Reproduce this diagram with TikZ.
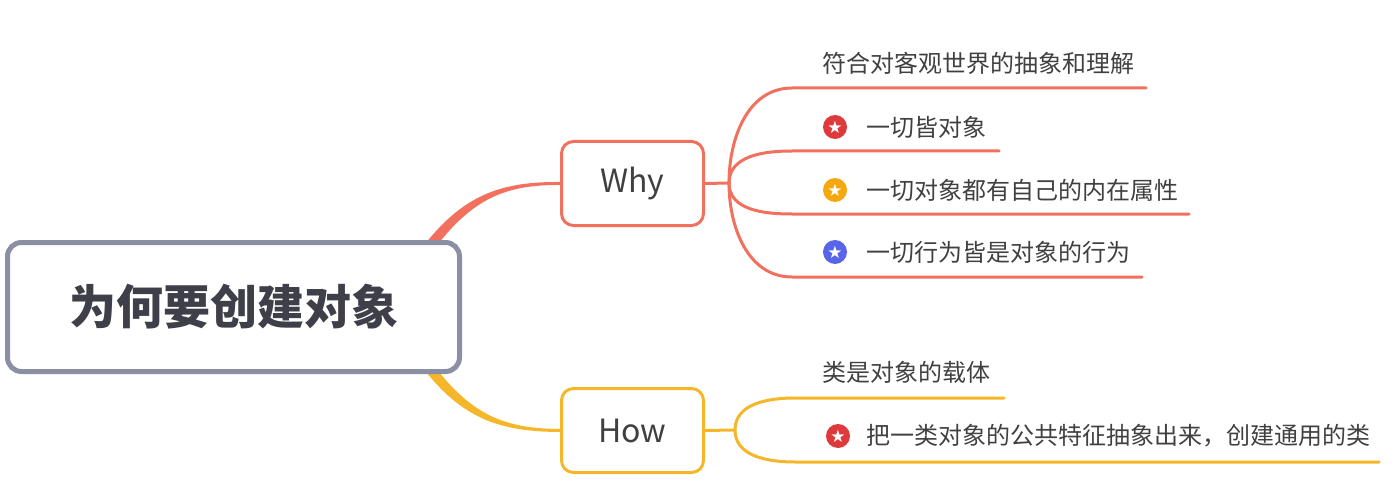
\documentclass[tikz,border=0pt]{standalone}
\usepackage{fontspec}
\setmainfont{Noto Sans CJK SC}
\newfontfamily\symfont{DejaVu Sans}
\usetikzlibrary{positioning,backgrounds}
\definecolor{rootgray}{HTML}{8A8FA3}
\definecolor{roottext}{HTML}{3E3F48}
\definecolor{leafgray}{HTML}{404040}
\definecolor{whyred}{HTML}{F2705E}
\definecolor{howyellow}{HTML}{F5B62A}
\definecolor{badgered}{HTML}{DD3B3B}
\definecolor{badgeyellow}{HTML}{F5A80E}
\definecolor{badgeblue}{HTML}{5865E8}
\tikzset{
  rootbox/.style={draw=rootgray, line width=5pt, rounded corners=14pt, fill=white,
    minimum width=452pt, minimum height=129pt, text=roottext,
    font=\fontsize{47}{50}\selectfont\bfseries},
  topicbox/.style={draw, line width=3pt, rounded corners=12pt, fill=white,
    minimum width=142pt, minimum height=84pt, text=leafgray,
    font=\fontsize{32}{36}\selectfont},
  leaflabel/.style={anchor=west, inner sep=0pt, text=leafgray,
    font=\fontsize{24}{28}\selectfont},
  badge/.style={circle, inner sep=0pt, minimum size=24pt, text=white,
    font=\symfont\fontsize{17}{17}\selectfont},
  branch/.style={line width=3pt, line cap=round},
}

\begin{document}
\begin{tikzpicture}[x=1pt, y=-1pt]
  \useasboundingbox (0,0) rectangle (1400,500);
  % ---- Root and topics ----
  \node[rootbox] at (233.5,307) (root) {为何要创建对象};
  \node[topicbox, draw=whyred]    at (632.5,183.5) (why) {Why};
  \node[topicbox, draw=howyellow] at (632.5,430.5) (how) {How};

  % ---- Why: leaves ----
  \coordinate (whyfork) at (729,183);
  \coordinate (w1s) at (792,88);   \coordinate (w1e) at (1146,88);
  \coordinate (w2s) at (792,151);  \coordinate (w2e) at (999,151);
  \coordinate (w3s) at (792,214);  \coordinate (w3e) at (1189,214);
  \coordinate (w4s) at (792,277);  \coordinate (w4e) at (1142,277);
  \node[leaflabel] at (822,63) (w1text) {符合对客观世界的抽象和理解};
  \node[badge, fill=badgered]    at (835,127) (w2badge) {★};
  \node[leaflabel] at (866,127) (w2text) {一切皆对象};
  \node[badge, fill=badgeyellow] at (835,190) (w3badge) {★};
  \node[leaflabel] at (866,190) (w3text) {一切对象都有自己的内在属性};
  \node[badge, fill=badgeblue]   at (835,252) (w4badge) {★};
  \node[leaflabel] at (866,252) (w4text) {一切行为皆是对象的行为};

  % ---- How: leaves ----
  \coordinate (howfork) at (735,430);
  \coordinate (h1s) at (795,398);  \coordinate (h1e) at (1004,398);
  \coordinate (h2s) at (795,462);  \coordinate (h2e) at (1379,462);
  \node[leaflabel] at (822,372) (h1text) {类是对象的载体};
  \node[badge, fill=badgered] at (838,436) (h2badge) {★};
  \node[leaflabel] at (866,436) (h2text) {把一类对象的公共特征抽象出来，创建通用的类};

  % ---- Edges ----
  \begin{pgfonlayer}{background}
    \coordinate (rootwhyA) at (400,280);  \coordinate (rootwhyB) at (409,286);
    \coordinate (roothowA) at (400,335);  \coordinate (roothowB) at (409,329);
    \fill[whyred] (rootwhyA) .. controls (450,200) and (490,181.5) .. ([yshift=1.5pt]why.west)
      -- ([yshift=-1.5pt]why.west) .. controls (493,184.5) and (459,206) .. (rootwhyB) -- cycle;
    \fill[howyellow] (roothowA) .. controls (450,415) and (490,431.5) .. ([yshift=-1.5pt]how.west)
      -- ([yshift=1.5pt]how.west) .. controls (493,428.5) and (459,409) .. (roothowB) -- cycle;
  \end{pgfonlayer}
  % Why
  \draw[branch, whyred] (why.east) -- (whyfork);
  \draw[branch, whyred] (whyfork) to[out=90, in=180] (w1s) -- (w1e);
  \draw[branch, whyred] (whyfork) to[out=90, in=180] (w2s) -- (w2e);
  \draw[branch, whyred] (whyfork) to[out=-90, in=180] (w3s) -- (w3e);
  \draw[branch, whyred] (whyfork) to[out=-90, in=180] (w4s) -- (w4e);
  % How
  \draw[branch, howyellow] (how.east) -- (howfork);
  \draw[branch, howyellow] (howfork) to[out=90, in=180] (h1s) -- (h1e);
  \draw[branch, howyellow] (howfork) to[out=-90, in=180] (h2s) -- (h2e);
\end{tikzpicture}
\end{document}
